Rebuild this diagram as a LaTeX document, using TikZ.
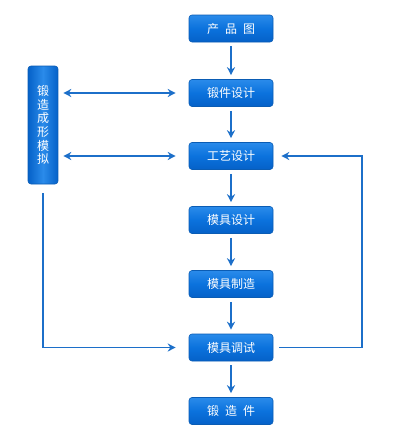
\documentclass[tikz,border=0pt]{standalone}
\usepackage{fontspec}
\newfontfamily\cjk{Noto Sans CJK SC}
\usetikzlibrary{arrows.meta}
\definecolor{boxtop}{HTML}{2A8BEA}
\definecolor{boxmid}{HTML}{0B72DD}
\definecolor{boxbot}{HTML}{0561C8}
\definecolor{boxline}{HTML}{0A5CB4}
\definecolor{linecol}{HTML}{1C6FC9}
\tikzset{
  stepbox/.style={rectangle, rounded corners=3pt, draw=boxline, line width=0.6pt,
    top color=boxtop, bottom color=boxbot, middle color=boxmid, minimum width=84pt, minimum height=27pt,
    inner sep=0pt, text=white, font=\cjk\fontsize{12}{13}\selectfont},
  simbox/.style={rectangle, rounded corners=3pt, draw=boxline, line width=0.6pt,
    left color=boxbot, right color=boxbot, middle color=boxtop, minimum width=30pt, minimum height=118pt,
    inner sep=0pt, text=white, font=\cjk\fontsize{12}{13.7}\selectfont, align=center},
  arr/.style={draw=linecol, line width=1.4pt, -{Stealth[length=8pt,width=8pt]}},
  darr/.style={draw=linecol, line width=1.4pt, {Stealth[length=8pt,width=8pt]}-{Stealth[length=8pt,width=8pt]}},
}
\begin{document}
\begin{tikzpicture}[x=1pt,y=-1pt]
\useasboundingbox (0,0) rectangle (409,447);
\node[stepbox] (b1) at (231,28.5) {产\hspace{6pt}品\hspace{6pt}图};
\node[stepbox] (b2) at (231,93) {锻件设计};
\node[stepbox] (b3) at (231,156) {工艺设计};
\node[stepbox] (b4) at (231,220) {模具设计};
\node[stepbox] (b5) at (231,284) {模具制造};
\node[stepbox] (b6) at (231,347.5) {模具调试};
\node[stepbox] (b7) at (231,411) {锻\hspace{6pt}造\hspace{6pt}件};
\node[simbox] (sim) at (43,125) {锻\\造\\成\\形\\模\\拟};
\coordinate (r) at (362,0);
\foreach \a/\b in {b1/b2,b2/b3,b3/b4,b4/b5,b5/b6,b6/b7}
  \draw[arr, shorten <=4pt, shorten >=4pt] (\a.south) -- (\b.north);
\draw[darr, shorten <=5pt, shorten >=13pt] (sim.east |- b2.west) -- (b2.west);
\draw[darr, shorten <=5pt, shorten >=13pt] (sim.east |- b3.west) -- (b3.west);
\draw[arr, shorten <=9pt, shorten >=13pt] (sim.south) |- (b6.west);
\draw[arr, shorten <=6pt, shorten >=8pt] (b6.east) -- (b6.east -| r) |- (b3.east);
\end{tikzpicture}
\end{document}
